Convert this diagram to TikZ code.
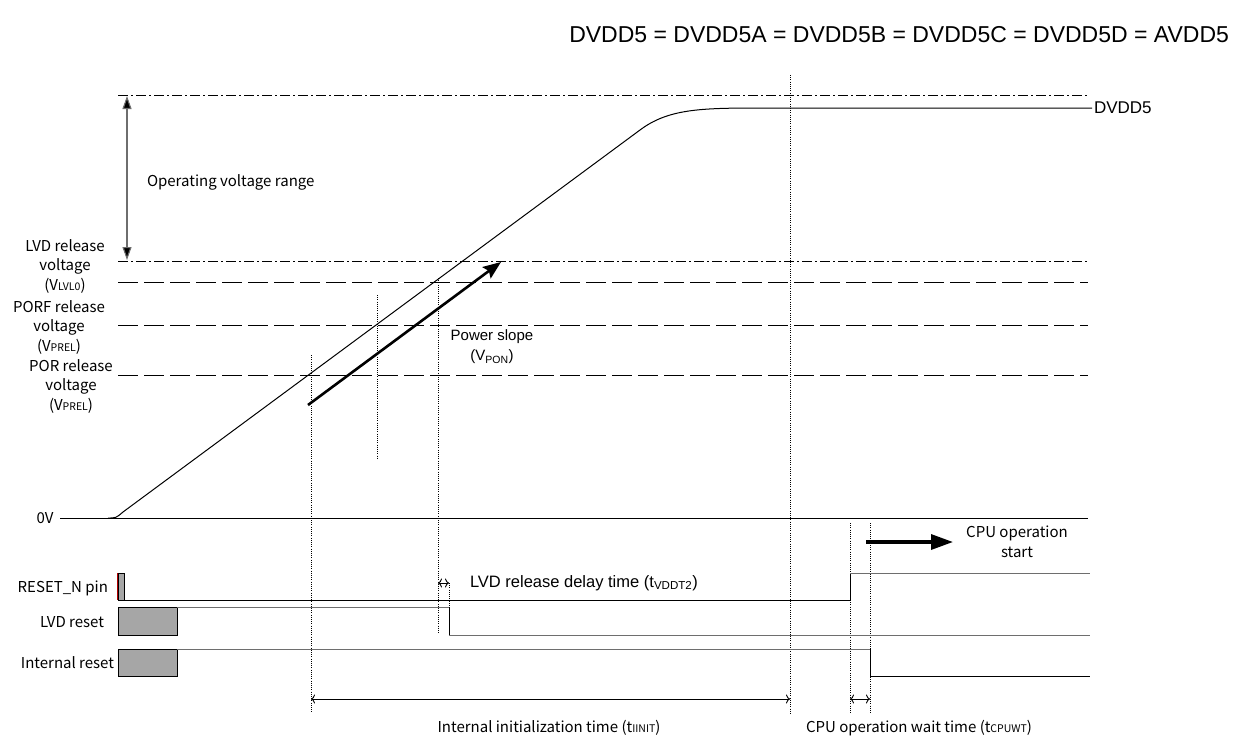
\documentclass[tikz,border=0pt]{standalone}
\usepackage{fontspec}
\setmainfont{Liberation Sans}
\newfontfamily\jpfont{Noto Sans CJK JP}
\usetikzlibrary{arrows.meta}
\definecolor{boxgrey}{HTML}{A6A6A6}
\definecolor{higrey}{HTML}{6E6E6E}
\begin{document}
\begin{tikzpicture}[x=1pt,y=-1pt,
  every node/.style={inner sep=0pt, outer sep=0pt},
  ln/.style={line width=1pt},
  dashdot/.style={ln, dash pattern=on 10pt off 3pt on 2pt off 3pt},
  longdash/.style={ln, dash pattern=on 20pt off 6pt},
  vdot/.style={line width=0.8pt, dash pattern=on 1pt off 1.2pt},
  jp/.style={font=\jpfont\fontsize{15}{19.5}\selectfont},
  ar/.style={font=\fontsize{16.5}{20}\selectfont},
  greybox/.style={fill=boxgrey, draw=black, line width=1pt},
  hiline/.style={ln, draw=higrey},
  loline/.style={ln, draw=black},
  dimarrow/.style={line width=0.9pt, {To[length=4pt,width=9pt]}-{To[length=4pt,width=9pt]}},
]
\useasboundingbox (0,0) rectangle (1242,740);
\newcommand{\jsub}[1]{{\fontsize{10.5}{12}\selectfont #1}}

% title
\node[font=\fontsize{23}{26}\selectfont, anchor=east] (title) at (1229,35) {DVDD5 = DVDD5A = DVDD5B = DVDD5C = DVDD5D = AVDD5};

% reference levels
\coordinate (topL) at (118,95);  \coordinate (topR) at (1088,95);
\coordinate (lvdL) at (118,261); \coordinate (lvdR) at (1088,261);
\coordinate (ldL) at (118,282);  \coordinate (ldR) at (1088,282);
\coordinate (pfL) at (118,325);  \coordinate (pfR) at (1088,325);
\coordinate (prL) at (118,375);  \coordinate (prR) at (1088,375);
\coordinate (zL) at (60,518);    \coordinate (zR) at (1088,518);
\draw[dashdot] (topL) -- (topR);
\draw[dashdot] (lvdL) -- (lvdR);
\draw[longdash] (ldL) -- (ldR);
\draw[longdash] (pfL) -- (pfR);
\draw[longdash] (prL) -- (prR);
\draw[ln] (zL) -- (zR);

% operating voltage range
\coordinate (opT) at (127,96); \coordinate (opB) at (127,260);
\draw[line width=1.1pt, draw=higrey, {Triangle[length=13pt,width=9pt,fill=black]}-{Triangle[length=13pt,width=9pt,fill=black]}] (opT) -- (opB);
\node[jp, anchor=west] (oprange) at (147,182) {Operating voltage range};

% left labels
\node[jp, align=center] (lvdlab) at (65,266) {LVD release\\voltage\\(V\jsub{LVL0})};
\node[jp, align=center] (pflab) at (59,327) {PORF release\\voltage\\(V\jsub{PREL})};
\node[jp, align=center] (prlab) at (71,386) {POR release\\voltage\\(V\jsub{PREL})};
\node[jp] (zlab) at (45,518) {0V};

% DVDD5 curve
\coordinate (v0) at (108,518); \coordinate (vEnd) at (1092,108);
\draw[ln] (v0) .. controls (116,518) .. (123,512) -- (640,130) .. controls (668,109) and (700,108) .. (760,108) -- (vEnd);
\node[font=\fontsize{17}{20}\selectfont, anchor=west] (dvddlab) at (1094,108) {DVDD5};

% power slope
\coordinate (ps0) at (308,405); \coordinate (ps1) at (501,262);
\draw[line width=2.6pt, -{Stealth[length=18pt,width=14pt,inset=3pt]}] (ps0) -- (ps1);
\node[font=\fontsize{15}{20}\selectfont, align=center] (pslab) at (492,347) {Power slope\\(V\textsubscript{PON})};

% vertical dotted lines
\coordinate (d1t) at (311,355); \coordinate (d1b) at (311,713);
\coordinate (d2t) at (377,295); \coordinate (d2b) at (377,458);
\coordinate (d3t) at (438,278); \coordinate (d3b) at (438,633);
\coordinate (d4t) at (449,583); \coordinate (d4b) at (449,606);
\coordinate (d5t) at (790,75);  \coordinate (d5b) at (790,715);
\coordinate (d6t) at (850,523); \coordinate (d6b) at (850,713);
\coordinate (d7t) at (870,523); \coordinate (d7b) at (870,713);
\foreach \a in {1,...,7} {\draw[vdot] (d\a t) -- (d\a b);}

% signal labels
\node[jp, anchor=east] (rstlab) at (108,588) {RESET\_N pin};
\node[jp, anchor=east] (lvdrlab) at (104,622) {LVD reset};
\node[jp, anchor=east] (intlab) at (114,663) {Internal reset};

% RESET_N pin
\draw[greybox] (118,573) rectangle (124,600);
\draw[line width=0.5pt, draw=red!70!black] (117.7,573) -- (117.7,600);
\coordinate (r0) at (124,600); \coordinate (r1) at (850,600);
\coordinate (r2) at (850,573); \coordinate (r3) at (1090,573);
\draw[loline] (r0) -- (r1) -- (r2);
\draw[hiline] (r2) -- (r3);

% LVD reset
\draw[greybox] (118,607) rectangle (177,635);
\coordinate (l0) at (177,607); \coordinate (l1) at (449,607);
\coordinate (l2) at (449,635); \coordinate (l3) at (1090,635);
\draw[hiline] (l0) -- (l1);
\draw[loline] (l1) -- (l2);
\draw[hiline] (l2) -- (l3);

% Internal reset
\draw[greybox] (118,649) rectangle (177,676);
\coordinate (i0) at (177,649); \coordinate (i1) at (870,649);
\coordinate (i2) at (870,676); \coordinate (i3) at (1090,676);
\draw[hiline] (i0) -- (i1);
\draw[loline] (i1) -- (i2) -- (i3);

% LVD release delay time
\coordinate (a1) at (438,583); \coordinate (a2) at (449,583);
\draw[dimarrow] (a1) -- (a2);
\node[ar, anchor=west] (delaylab) at (470,583) {LVD release delay time (t\textsubscript{VDDT2})};

% internal initialization time
\coordinate (b1) at (311,699); \coordinate (b2) at (790,699);
\draw[dimarrow] (b1) -- (b2);
\node[jp] (initlab) at (549,728) {Internal initialization time (t\jsub{IINIT})};

% CPU operation wait time
\coordinate (c1) at (850,699); \coordinate (c2) at (870,699);
\draw[dimarrow] (c1) -- (c2);
\node[jp] (waitlab) at (919,728) {CPU operation wait time (t\jsub{CPUWT})};

% CPU operation start
\coordinate (s0) at (866,542); \coordinate (s1) at (953,542);
\draw[line width=3.3pt, -{Triangle[length=22pt,width=15pt]}] (s0) -- (s1);
\node[jp, align=center] (startlab) at (1017,542) {CPU operation\\start};
\end{tikzpicture}
\end{document}
